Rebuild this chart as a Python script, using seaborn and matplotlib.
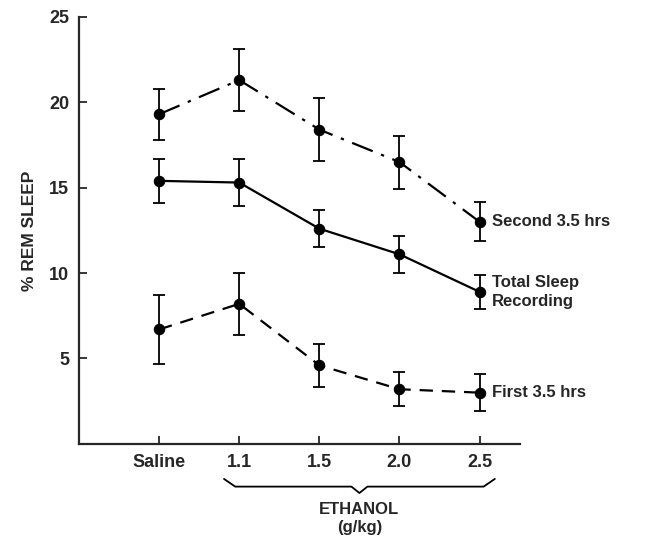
import numpy as np
import pandas as pd
import matplotlib
matplotlib.use("Agg")
import matplotlib.pyplot as plt
import matplotlib.transforms as mtransforms
import seaborn as sns

# dados
doses = ["Saline", "1.1", "1.5", "2.0", "2.5"]
second_mean = [19.3, 21.3, 18.4, 16.5, 13.0]
second_err = [1.5, 1.8, 1.85, 1.55, 1.15]
total_mean = [15.4, 15.3, 12.6, 11.1, 8.9]
total_err = [1.3, 1.35, 1.1, 1.1, 1.0]
first_mean = [6.7, 8.2, 4.6, 3.2, 3.0]
first_err = [2.0, 1.8, 1.25, 1.0, 1.1]

series_names = ["Second 3.5 hrs", "Total Sleep\nRecording", "First 3.5 hrs"]
series_means = [second_mean, total_mean, first_mean]
series_errs = [second_err, total_err, first_err]
series_dash = [(10, 4, 1.5, 4), "", (6, 4)]

sns.set_style("ticks")
plt.rcParams["font.family"] = ["Liberation Sans", "DejaVu Sans"]

fig = plt.figure(figsize=(6.5, 5.44), dpi=100)
ax = fig.add_axes([0.1215, 0.184, 0.678, 0.785])

x = np.arange(len(doses))
for name, mean, err, dash in zip(series_names, series_means, series_errs, series_dash):
    df = pd.DataFrame({"x": x, "y": mean})
    sns.lineplot(data=df, x="x", y="y", ax=ax, color="black", linewidth=1.6,
                 marker="o", markersize=7.5, markeredgecolor="black")
    line = ax.lines[-1]
    if dash:
        line.set_dashes(dash)
    ax.errorbar(x, mean, yerr=err, fmt="none", ecolor="black", elinewidth=1.3,
                capsize=4, capthick=1.3)
    ax.text(x[-1] + 0.15, mean[-1], name, ha="left", va="center",
            fontsize=12, fontweight="bold", linespacing=1.3)

ax.set_xlim(-1, 4.5)
ax.set_ylim(0, 25)
ax.set_xticks(x)
ax.set_xticklabels(doses)
ax.set_yticks([5, 10, 15, 20, 25])
ax.tick_params(direction="in", length=6, width=1.3, labelsize=13, pad=7)
for lab in ax.get_xticklabels() + ax.get_yticklabels():
    lab.set_fontweight("bold")
ax.set_xlabel("")
ax.set_ylabel("% REM SLEEP", fontsize=12.5, fontweight="bold", labelpad=9)
sns.despine(ax=ax)
ax.spines["left"].set_linewidth(1.6)
ax.spines["bottom"].set_linewidth(1.6)

# chave sob as doses de etanol
trans = mtransforms.blended_transform_factory(ax.transData, ax.transAxes)
bx = [0.81, 0.95, 2.4, 2.5, 2.6, 4.05, 4.19]
by = [-0.082, -0.10, -0.10, -0.115, -0.10, -0.10, -0.082]
ax.plot(bx, by, color="black", linewidth=1.3, transform=trans, clip_on=False)
ax.text(2.5, -0.135, "ETHANOL\n(g/kg)", transform=trans, ha="center", va="top",
        fontsize=12, fontweight="bold", linespacing=1.25)

fig.savefig("out.png", dpi=100)
